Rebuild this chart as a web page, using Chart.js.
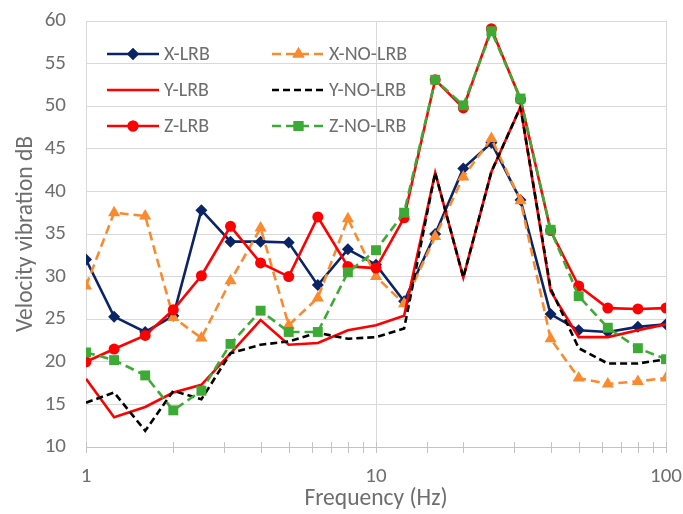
<!DOCTYPE html>
<html>
<head>
<meta charset="utf-8">
<script src="https://cdn.jsdelivr.net/npm/chart.js@4/dist/chart.umd.min.js"></script>
<style>
  html, body { margin: 0; padding: 0; background: #fff; }
  #wrap { width: 683px; height: 514px; }
</style>
</head>
<body>
<div id="wrap"><canvas id="c" width="683" height="514"></canvas></div>
<script>
// One-third octave band centre frequencies (Hz)
const frequencies = [1, 1.25, 1.6, 2, 2.5, 3.15, 4, 5, 6.3, 8, 10, 12.5, 16, 20, 25, 31.5, 40, 50, 63, 80, 100];

// Velocity vibration levels (dB) per direction, with and without LRB
const xLRB   = [32.0, 25.3, 23.5, 25.4, 37.8, 34.1, 34.1, 34.0, 29.0, 33.2, 31.4, 27.1, 35.0, 42.7, 45.7, 39.0, 25.6, 23.7, 23.5, 24.1, 24.4];
const xNoLRB = [28.9, 37.5, 37.1, 25.2, 22.8, 29.5, 35.7, 24.3, 27.5, 36.8, 30.0, 26.8, 34.7, 41.7, 46.2, 38.9, 22.7, 18.1, 17.4, 17.7, 18.1];
const yLRB   = [18.0, 13.5, 14.7, 16.4, 17.3, 21.0, 24.9, 22.0, 22.2, 23.7, 24.3, 25.4, 42.2, 29.9, 42.3, 49.9, 28.3, 22.9, 22.9, 23.7, 24.4];
const yNoLRB = [15.2, 16.4, 11.9, 16.6, 15.6, 21.0, 22.0, 22.4, 23.4, 22.7, 22.9, 23.9, 42.2, 29.9, 42.3, 49.9, 28.6, 21.6, 19.8, 19.8, 20.3];
const zLRB   = [20.0, 21.5, 23.1, 26.1, 30.1, 35.9, 31.6, 30.0, 37.0, 31.2, 31.0, 36.9, 53.1, 49.8, 59.1, 50.8, 35.4, 28.9, 26.3, 26.2, 26.3];
const zNoLRB = [21.1, 20.2, 18.4, 14.3, 16.6, 22.1, 26.0, 23.5, 23.5, 30.5, 33.1, 37.5, 53.1, 50.1, 58.8, 50.9, 35.5, 27.7, 24.0, 21.6, 20.3];

const seriesNames = ['X-LRB', 'X-NO-LRB', 'Y-LRB', 'Y-NO-LRB', 'Z-LRB', 'Z-NO-LRB'];
const xLabels = [1, 10, 100];

const FONT = "Carlito, Calibri, 'Open Sans', sans-serif";
const TEXT = '#6e6e6e';
const GRID = '#d9d9d9';

const toPoints = vals => vals.map((v, i) => ({ x: frequencies[i], y: v }));

const styles = [
  { color: '#0a2466', dash: [],     point: 'rectRot',  radius: 6,   width: 2.6 },
  { color: '#fb8a2e', dash: [9, 5], point: 'triangle', radius: 7,   width: 2.6 },
  { color: '#ff0000', dash: [],     point: false,      radius: 0,   width: 2.6 },
  { color: '#000000', dash: [7, 4], point: false,      radius: 0,   width: 2.6 },
  { color: '#ff0000', dash: [],     point: 'circle',   radius: 5.5, width: 2.6 },
  { color: '#3daa35', dash: [9, 5], point: 'rect',     radius: 7,   width: 2.6 }
];

const values = [xLRB, xNoLRB, yLRB, yNoLRB, zLRB, zNoLRB];

const datasets = values.map((vals, i) => ({
  label: seriesNames[i],
  data: toPoints(vals),
  borderColor: styles[i].color,
  backgroundColor: styles[i].color,
  borderWidth: styles[i].width,
  borderDash: styles[i].dash,
  pointStyle: styles[i].point || 'circle',
  pointRadius: styles[i].radius,
  pointBorderWidth: 0,
  pointBackgroundColor: styles[i].color,
  tension: 0,
  fill: false,
  order: 6 - i
}));

// Two-column legend drawn inside the plot area
const insideLegend = {
  id: 'insideLegend',
  afterDraw(chart) {
    const ctx = chart.ctx;
    const cols = [{ x0: 107, x1: 159, tx: 164 }, { x0: 272, x1: 325, tx: 329 }];
    const rows = [54, 90, 126];
    ctx.save();
    ctx.font = '20px ' + FONT;
    ctx.textBaseline = 'middle';
    ctx.textAlign = 'left';
    seriesNames.forEach((name, i) => {
      const c = cols[i % 2];
      const y = rows[Math.floor(i / 2)];
      const s = styles[i];
      ctx.strokeStyle = s.color;
      ctx.lineWidth = s.width;
      ctx.setLineDash(s.dash);
      ctx.beginPath();
      ctx.moveTo(c.x0, y);
      ctx.lineTo(c.x1, y);
      ctx.stroke();
      ctx.setLineDash([]);
      if (s.point) {
        ctx.fillStyle = s.color;
        Chart.helpers.drawPoint(ctx, { pointStyle: s.point, radius: s.radius, borderWidth: 0 }, (c.x0 + c.x1) / 2, y);
        ctx.fill();
      }
      ctx.fillStyle = TEXT;
      ctx.fillText(name, c.tx, y + 1);
    });
    ctx.restore();
  }
};

// Minor tick marks on the frequency axis, crossing the axis line
const crossTicks = {
  id: 'crossTicks',
  afterDraw(chart) {
    const sx = chart.scales.x;
    const ctx = chart.ctx;
    const y0 = sx.top;
    ctx.save();
    ctx.strokeStyle = '#c4c4c4';
    ctx.lineWidth = 1;
    sx.ticks.forEach(t => {
      const px = Math.round(sx.getPixelForValue(t.value)) + 0.5;
      ctx.beginPath();
      ctx.moveTo(px, y0 - 5);
      ctx.lineTo(px, y0 + 6);
      ctx.stroke();
    });
    ctx.restore();
  }
};

new Chart(document.getElementById('c'), {
  type: 'line',
  data: { datasets },
  plugins: [insideLegend, crossTicks],
  options: {
    responsive: false,
    animation: false,
    events: [],
    layout: { padding: { top: 21, right: 17, left: 8, bottom: 0 } },
    plugins: {
      legend: { display: false },
      tooltip: { enabled: false }
    },
    scales: {
      x: {
        type: 'logarithmic',
        min: 1,
        max: 100,
        afterFit: s => { s.height = 67; s.paddingLeft = 0; s.paddingRight = 0; },
        border: { color: '#c4c4c4', width: 1 },
        grid: {
          color: c => (c.tick && xLabels.includes(c.tick.value)) ? GRID : 'rgba(0,0,0,0)',
          tickColor: 'rgba(0,0,0,0)',
          tickLength: 6,
          lineWidth: 1
        },
        ticks: {
          autoSkip: false,
          maxRotation: 0,
          padding: 11,
          color: TEXT,
          font: { family: FONT, size: 21 },
          callback: v => xLabels.includes(v) ? String(v) : ''
        },
        title: {
          display: true,
          text: 'Frequency (Hz)',
          color: TEXT,
          font: { family: FONT, size: 23.5 },
          padding: { top: 2, bottom: 1 }
        }
      },
      y: {
        min: 10,
        max: 60,
        afterFit: s => { s.width = 78; s.paddingTop = 0; s.paddingBottom = 0; },
        border: { color: GRID, width: 1 },
        grid: { color: GRID, drawTicks: false, lineWidth: 1 },
        ticks: {
          stepSize: 5,
          padding: 20,
          color: TEXT,
          font: { family: FONT, size: 21 }
        },
        title: {
          display: true,
          text: 'Velocity vibration dB',
          color: TEXT,
          font: { family: FONT, size: 23.5 },
          padding: { top: 4, bottom: 4 }
        }
      }
    }
  }
});
</script>
</body>
</html>
